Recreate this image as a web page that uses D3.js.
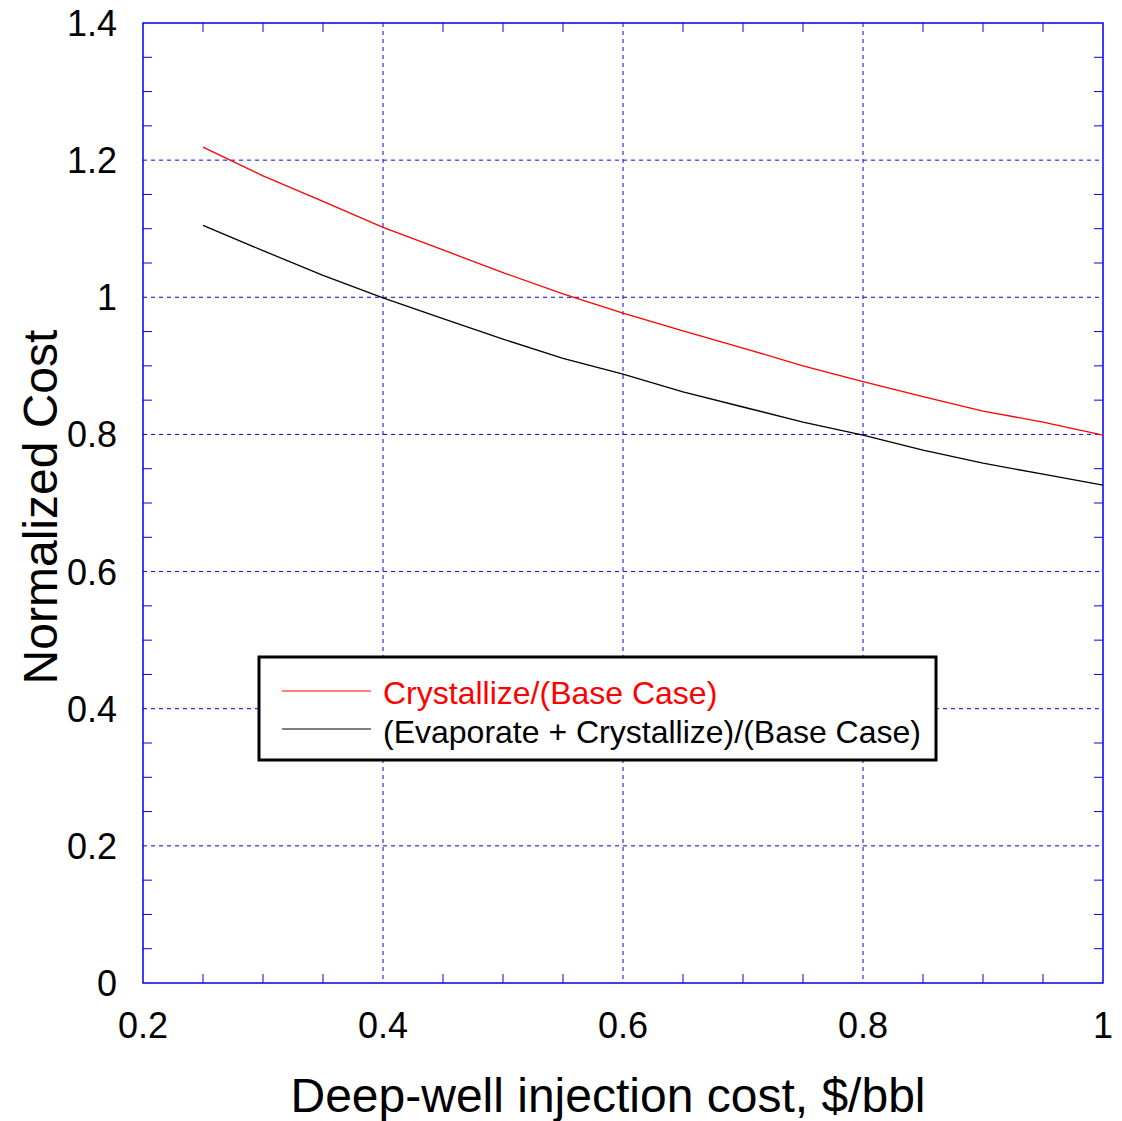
<!DOCTYPE html>
<html>
<head>
<meta charset="utf-8">
<script src="https://cdn.jsdelivr.net/npm/d3@7"></script>
<style>
  body { margin: 0; background: #fff; }
  text { font-family: "Liberation Sans", Arial, sans-serif; }
</style>
</head>
<body>
<div class="chart"></div>
<script>
// injection cost, $/bbl
const cost = [0.25, 0.30, 0.35, 0.40, 0.45, 0.50, 0.55, 0.60, 0.65, 0.70, 0.75, 0.80, 0.85, 0.90, 0.95, 1.00];
const crystallize = [1.219, 1.177, 1.140, 1.102, 1.069, 1.036, 1.005, 0.977, 0.951, 0.926, 0.900, 0.877, 0.855, 0.834, 0.818, 0.799];
const evapCrystallize = [1.105, 1.068, 1.032, 0.999, 0.969, 0.939, 0.911, 0.888, 0.862, 0.840, 0.818, 0.799, 0.777, 0.758, 0.742, 0.726];
const seriesNames = ["Crystallize/(Base Case)", "(Evaporate + Crystallize)/(Base Case)"];
const seriesColors = ["#ff0000", "#000000"];
const xTicks = [0.2, 0.4, 0.6, 0.8, 1];
const yTicks = [0, 0.2, 0.4, 0.6, 0.8, 1, 1.2, 1.4];

const W = 1122, H = 1121;
const margin = { top: 23, right: 19, bottom: 138, left: 143 };
const width = W - margin.left - margin.right;
const height = H - margin.top - margin.bottom;

const svg = d3.select('.chart').append('svg')
  .attr('width', W)
  .attr('height', H)
  .append('g')
  .attr('transform', `translate(${margin.left},${margin.top})`);

const x = d3.scaleLinear().domain([0.2, 1]).range([0, width]);
const y = d3.scaleLinear().domain([0, 1.4]).range([height, 0]);

const blue = '#0000ee';

// grid
svg.append('g').selectAll('line')
  .data(xTicks.slice(1, -1))
  .enter().append('line')
  .attr('x1', d => x(d)).attr('x2', d => x(d))
  .attr('y1', 0).attr('y2', height)
  .attr('stroke', blue).attr('stroke-width', 1)
  .attr('stroke-dasharray', '4,4');

svg.append('g').selectAll('line')
  .data(yTicks.slice(1, -1))
  .enter().append('line')
  .attr('y1', d => y(d)).attr('y2', d => y(d))
  .attr('x1', 0).attr('x2', width)
  .attr('stroke', blue).attr('stroke-width', 1)
  .attr('stroke-dasharray', '4,4');

// minor ticks every 0.05, inward on all four sides
const xMinor = d3.range(0.25, 1, 0.05).filter(v => Math.abs(v * 5 - Math.round(v * 5)) > 1e-6);
const yMinor = d3.range(0.05, 1.4, 0.05).filter(v => Math.abs(v * 5 - Math.round(v * 5)) > 1e-6);
const tk = 9;

const ticks = svg.append('g').attr('stroke', blue).attr('stroke-width', 1);
ticks.selectAll('.xb').data(xMinor).enter().append('line')
  .attr('x1', d => x(d)).attr('x2', d => x(d)).attr('y1', height).attr('y2', height - tk);
ticks.selectAll('.xt').data(xMinor).enter().append('line')
  .attr('x1', d => x(d)).attr('x2', d => x(d)).attr('y1', 0).attr('y2', tk);
ticks.selectAll('.yl').data(yMinor).enter().append('line')
  .attr('y1', d => y(d)).attr('y2', d => y(d)).attr('x1', 0).attr('x2', tk);
ticks.selectAll('.yr').data(yMinor).enter().append('line')
  .attr('y1', d => y(d)).attr('y2', d => y(d)).attr('x1', width).attr('x2', width - tk);

// frame
svg.append('rect')
  .attr('width', width).attr('height', height)
  .attr('fill', 'none').attr('stroke', blue).attr('stroke-width', 1.5);

// tick labels
svg.append('g').selectAll('text')
  .data(yTicks).enter().append('text')
  .attr('x', -26).attr('y', d => y(d) + 13)
  .attr('text-anchor', 'end')
  .attr('font-size', '36px')
  .text(d => d3.format('')(d));

svg.append('g').selectAll('text')
  .data(xTicks).enter().append('text')
  .attr('x', d => x(d)).attr('y', height + 55)
  .attr('text-anchor', 'middle')
  .attr('font-size', '36px')
  .text(d => d3.format('')(d));

// axis titles
svg.append('text')
  .attr('x', width / 2 - 15).attr('y', height + 129)
  .attr('text-anchor', 'middle')
  .attr('font-size', '48px')
  .text('Deep-well injection cost, $/bbl');

svg.append('text')
  .attr('transform', `translate(${-86},${height / 2 + 4}) rotate(-90)`)
  .attr('text-anchor', 'middle')
  .attr('font-size', '48px')
  .text('Normalized Cost');

// lines
const line = d3.line().x(d => x(d[0])).y(d => y(d[1]));
[crystallize, evapCrystallize].forEach((vals, i) => {
  svg.append('path')
    .datum(cost.map((c, j) => [c, vals[j]]))
    .attr('d', line)
    .attr('fill', 'none')
    .attr('stroke', seriesColors[i])
    .attr('stroke-width', 1.3);
});

// legend
const lg = svg.append('g').attr('transform', `translate(${259 - margin.left},${657 - margin.top})`);
lg.append('rect')
  .attr('width', 677).attr('height', 103)
  .attr('fill', '#fff').attr('stroke', '#000').attr('stroke-width', 3);
seriesNames.forEach((name, i) => {
  lg.append('line')
    .attr('x1', 23).attr('x2', 112)
    .attr('y1', 34 + i * 38).attr('y2', 34 + i * 38)
    .attr('stroke', seriesColors[i]).attr('stroke-width', 1.2);
  lg.append('text')
    .attr('x', 124).attr('y', 47 + i * 39)
    .attr('font-size', '32px')
    .attr('fill', seriesColors[i])
    .text(name);
});
</script>
</body>
</html>
